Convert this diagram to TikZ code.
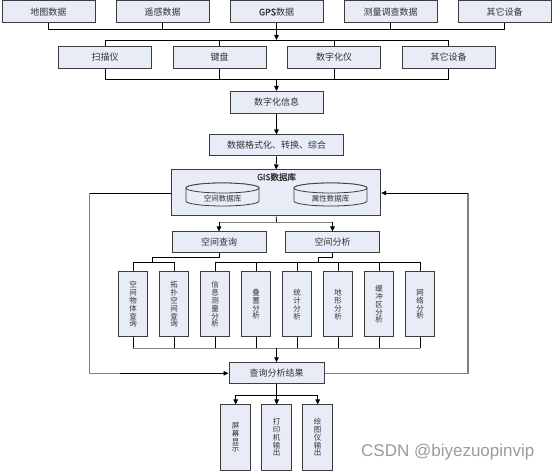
\documentclass[tikz,border=0pt]{standalone}
\usepackage{fontspec}
\newfontfamily\cjk{Noto Sans CJK SC}
\newfontfamily\cjkb[FakeBold=1.2]{Noto Sans CJK SC}
\newfontfamily\wmfont{Liberation Sans}
\usetikzlibrary{arrows.meta}
\definecolor{boxfill}{RGB}{231,236,247}
\definecolor{boxline}{RGB}{60,60,60}
\definecolor{txt}{RGB}{50,50,50}
\definecolor{lgray}{RGB}{128,128,128}
\begin{document}
\begin{tikzpicture}[x=1pt,y=-1pt,
  box/.style={draw=boxline, fill=boxfill, line width=1pt, inner sep=0pt,
    text=txt, font=\cjk\fontsize{9}{10}\selectfont},
  hbox/.style={box, minimum width=93pt, minimum height=22pt},
  vbox/.style={box, minimum width=29pt, minimum height=65pt, align=center,
    font=\cjk\fontsize{7.5}{7.8}\selectfont},
  cyl/.style={draw=boxline, fill=boxfill, line width=0.8pt},
  ln/.style={draw=black, line width=0.8pt},
  gln/.style={draw=lgray, line width=1.3pt},
  arr/.style={ln, -{Triangle[length=5pt,width=4.5pt]}},
  garr/.style={gln, -{Triangle[length=5pt,width=4.5pt]}}]
\useasboundingbox (0,0) rectangle (555,473);

% top row
\node[hbox] (t1) at (48.5,12) {地图数据};
\node[hbox] (t2) at (162.5,12) {遥感数据};
\node[hbox] (t3) at (276.5,12) {{\cjkb GPS}数据};
\node[hbox] (t4) at (390.5,12) {测量调查数据};
\node[hbox] (t5) at (504.5,12) {其它设备};

% second row
\node[hbox] (s1) at (105,57.5) {扫描仪};
\node[hbox] (s2) at (219.5,57.5) {键盘};
\node[hbox] (s3) at (334,57.5) {数字化仪};
\node[hbox] (s4) at (448.5,57.5) {其它设备};

\node[hbox] (dig) at (276.5,102.5) {数字化信息};
\node[hbox, minimum width=134pt, minimum height=21pt] (fmt) at (276.5,145.5) {数据格式化、转换、综合};

% GIS database
\node[box, minimum width=209pt, minimum height=46pt] (gis) at (276.2,193) {};
\node[text=txt, font=\cjkb\fontsize{8.5}{9}\selectfont, inner sep=0pt] (gisl) at (276.5,177) {GIS数据库};
\path[cyl] (186,188) -- (186,201) arc[start angle=180,end angle=0,x radius=36.5,y radius=5] -- (259,188) arc[start angle=0,end angle=-180,x radius=36.5,y radius=5] -- cycle;
\draw[cyl] (222.5,188) ellipse[x radius=36.5,y radius=5];
\path[cyl] (294,188) -- (294,201) arc[start angle=180,end angle=0,x radius=36.5,y radius=5] -- (367,188) arc[start angle=0,end angle=-180,x radius=36.5,y radius=5] -- cycle;
\draw[cyl] (330.5,188) ellipse[x radius=36.5,y radius=5];
\node[text=txt, font=\cjk\fontsize{7.5}{8}\selectfont, inner sep=0pt] (db1) at (222.5,199) {空间数据库};
\node[text=txt, font=\cjk\fontsize{7.5}{8}\selectfont, inner sep=0pt] (db2) at (330.5,199) {属性数据库};

\node[hbox, minimum width=94pt, minimum height=21pt] (q) at (219,242.5) {空间查询};
\node[hbox, minimum width=94pt, minimum height=21pt] (a) at (332.5,242.5) {空间分析};

% sub boxes
\node[vbox] (v1) at (133,304.5) {空\\间\\物\\体\\查\\询};
\node[vbox] (v2) at (174,304.5) {拓\\扑\\空\\间\\查\\询};
\node[vbox] (v3) at (215,304.5) {信\\息\\测\\量\\分\\析};
\node[vbox] (v4) at (256,304.5) {叠\\置\\分\\析};
\node[vbox] (v5) at (297,304.5) {统\\计\\分\\析};
\node[vbox] (v6) at (338,304.5) {地\\形\\分\\析};
\node[vbox] (v7) at (379,304.5) {缓\\冲\\区\\分\\析};
\node[vbox] (v8) at (420,304.5) {网\\络\\分\\析};

\node[hbox, minimum width=95pt, minimum height=21pt] (res) at (276.5,373.3) {查询分析结果};

\node[vbox, minimum width=30pt] (o1) at (235.7,437.5) {屏\\幕\\显\\示};
\node[vbox, minimum width=30pt] (o2) at (276.7,437.5) {打\\印\\机\\输\\出};
\node[vbox, minimum width=30pt] (o3) at (317.7,437.5) {绘\\图\\仪\\输\\出};

% bus coordinates
\coordinate (b1) at (276.5,29);
\coordinate (b2) at (276.5,40);
\coordinate (b3) at (276.5,79.3);
\coordinate (b4) at (276.5,222.5);
\coordinate (qk) at (152,257);
\coordinate (qb) at (152,262.7);
\coordinate (ak) at (318,257);
\coordinate (ab) at (318,262.7);
\coordinate (b5) at (276.5,348.3);
\coordinate (b6) at (276.5,395);
\coordinate (lc) at (89.6,193);
\coordinate (rc) at (468,193);

% connectors
\foreach \n in {t1,t2,t3,t4,t5} \draw[ln] (\n.south) |- (b1);
\draw[arr] (b1) -- (b2);
\foreach \n in {s1,s2,s3,s4} \draw[ln] (b2) -| (\n.north);
\foreach \n in {s1,s2,s3,s4} \draw[ln] (\n.south) |- (b3);
\draw[arr] (b3) -- (dig.north);
\draw[arr] (dig.south) -- (fmt.north);
\draw[arr] (fmt.south) -- (gis.north);
\draw[ln] (gis.south) -- (b4);
\draw[gln] (b4 -| q.north) -- (b4 -| a.north);
\draw[arr] (b4 -| q.north) -- (q.north);
\draw[arr] (b4 -| a.north) -- (a.north);

\draw[ln] (q.south) |- (qk) -- (qb);
\foreach \n in {v1,v2} \draw[ln] (qb) -| (\n.north);
\draw[ln] (a.south) |- (ak) -- (ab);
\foreach \n in {v3,v4,v5,v6,v7,v8} \draw[ln] (ab) -| (\n.north);

\foreach \n in {v1,v2,v3,v4,v5,v6,v7,v8} \draw[ln] (\n.south) -- (\n.south |- b5);
\draw[gln] (b5 -| v1.south) -- (b5 -| v8.south);
\draw[arr] (b5) -- (res.north);

\draw[ln] (res.south) -- (b6);
\foreach \n in {o1,o2,o3} \draw[arr] (b6) -| (\n.north);

\draw[ln] (gis.west |- lc) -- (lc);
\draw[gln] (lc) |- (res.west -| 120,0) ;
\draw[arr] (res.west -| 120,0) -- (res.west);
\draw[gln] (res.east) -| (rc);
\draw[arr] (rc) -- (gis.east |- rc);

% watermark
\node[text=lgray!80, font=\wmfont\fontsize{17}{17}\selectfont, inner sep=0pt, anchor=west] (wm) at (361,452.5) {CSDN @biyezuopinvip};
\end{tikzpicture}
\end{document}
